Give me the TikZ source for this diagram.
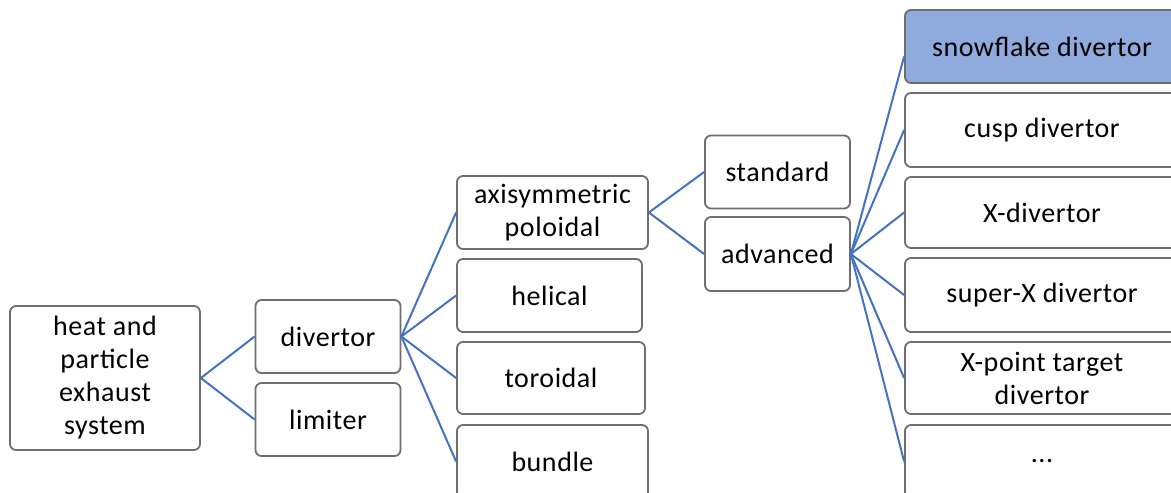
\documentclass[tikz,border=0pt]{standalone}
\usepackage{fontspec}
\setmainfont[LetterSpace=2]{Carlito}
\definecolor{boxgray}{HTML}{6E6E6E}
\definecolor{linkblue}{HTML}{4472C4}
\definecolor{snowfill}{HTML}{8FAADC}
\begin{document}
\begin{tikzpicture}[x=1pt,y=-1pt,
  box/.style={draw=boxgray,line width=1.8pt,rounded corners=6pt,fill=white,
    inner sep=0pt,align=center,font=\fontsize{28}{33}\selectfont,text=black},
  link/.style={draw=linkblue,line width=2pt}]
\useasboundingbox (0,0) rectangle (1171,493);
\clip (0,0) rectangle (1171,493);
\fill[white] (0,0) rectangle (1171,493);
% nodes
\node[box,minimum width=190pt,minimum height=144pt] (heat) at (105,378) {heat and\\particle\\exhaust\\system};
\node[box,minimum width=145pt,minimum height=73pt] (div) at (328,336.5) {divertor};
\node[box,minimum width=145pt,minimum height=73pt] (lim) at (328,419.5) {limiter};
\node[box,minimum width=191pt,minimum height=73pt] (axi) at (552.5,212.5) {axisymmetric\\poloidal};
\node[box,minimum width=185pt,minimum height=73pt] (hel) at (549.5,295.5) {helical};
\node[box,minimum width=188pt,minimum height=72pt] (tor) at (551,378) {toroidal};
\node[box,minimum width=191pt,minimum height=73pt] (bun) at (552.5,461.5) {bundle};
\node[box,minimum width=145pt,minimum height=73pt] (std) at (777.5,172) {standard};
\node[box,minimum width=145pt,minimum height=74pt] (adv) at (777.5,254) {advanced};
\node[box,fill=snowfill,minimum width=274pt,minimum height=73pt] (snow) at (1042,46.5) {snowflake divertor};
\node[box,minimum width=274pt,minimum height=74pt] (cusp) at (1042,130) {cusp divertor};
\node[box,minimum width=274pt,minimum height=71pt] (xdiv) at (1042,212.5) {X-divertor};
\node[box,minimum width=274pt,minimum height=74pt] (sx) at (1042,295) {super-X divertor};
\node[box,minimum width=274pt,minimum height=72pt] (xpt) at (1042,378) {X-point target\\divertor};
\node[box,minimum width=274pt,minimum height=73pt] (etc) at (1042,461.5) {...};
% connectors
\draw[link] (heat.east) -- (div.west);
\draw[link] (heat.east) -- (lim.west);
\draw[link] (div.east) -- (axi.west);
\draw[link] (div.east) -- (hel.west);
\draw[link] (div.east) -- (tor.west);
\draw[link] (div.east) -- (bun.west);
\draw[link] (axi.east) -- (std.west);
\draw[link] (axi.east) -- (adv.west);
\draw[link] (adv.east) -- ([yshift=-10pt]snow.west);
\draw[link] (adv.east) -- (cusp.west);
\draw[link] (adv.east) -- (xdiv.west);
\draw[link] (adv.east) -- (sx.west);
\draw[link] (adv.east) -- (xpt.west);
\draw[link] (adv.east) -- (etc.west);
\end{tikzpicture}
\end{document}
